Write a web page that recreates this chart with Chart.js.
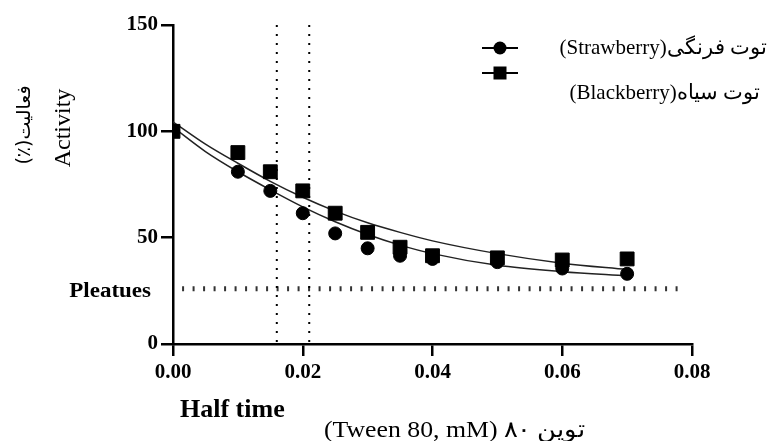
<!DOCTYPE html>
<html>
<head>
<meta charset="utf-8">
<script src="https://cdn.jsdelivr.net/npm/chart.js@4.4.1/dist/chart.umd.min.js"></script>
<style>
  html, body { margin: 0; padding: 0; background: #fff; }
  #wrap { width: 769px; height: 441px; }
</style>
</head>
<body>
<div id="wrap"><canvas id="activityChart" width="769" height="441"></canvas></div>
<script>
// measured points (Tween 80 concentration, mM)
const concentrations = [0, 0.01, 0.015, 0.02, 0.025, 0.03, 0.035, 0.04, 0.05, 0.06, 0.07];
const strawberry = [100, 81, 72, 61.5, 52, 45, 41.5, 40, 38.5, 35.5, 33];
const blackberry = [100, 90, 81, 72, 61.5, 52.5, 45.5, 41.5, 40.5, 39.5, 40];

// fitted decay curves
const fitX = [0, 0.005, 0.01, 0.015, 0.02, 0.025, 0.03, 0.035, 0.04, 0.05, 0.06, 0.07];
const strawberryFit = [102, 90.5, 81, 72.5, 64.5, 57.5, 51.5, 46.5, 42.5, 37, 34, 32];
const blackberryFit = [104.5, 94, 85, 76.5, 69, 62.5, 57, 52.5, 48.5, 42.5, 38, 35];

// half time guides and plateau
const halfTimes = [0.016, 0.021];
const plateauValue = 26;
const plateauRange = [0.0014, 0.0788];

const xTickValues = [0, 0.02, 0.04, 0.06, 0.08];
const yTickValues = [0, 50, 100, 150];

const legendLabels = ["(Strawberry)توت فرنگی", "(Blackberry)توت سیاه"];

function pairs(xs, ys) {
  return xs.map(function (x, i) { return { x: x, y: ys[i] }; });
}

const serif = "'Liberation Serif', 'Times New Roman', serif";

// text drawn a little wider than normal, like the source figure
function wideText(ctx, text, x, y, stretch) {
  ctx.save();
  ctx.translate(x, y);
  ctx.scale(stretch, 1);
  ctx.fillText(text, 0, 0);
  ctx.restore();
}

const textPlugin = {
  id: "textPlugin",
  afterDraw: function (chart) {
    const ctx = chart.ctx;
    ctx.save();
    ctx.fillStyle = "#000";

    // y titles
    ctx.save();
    ctx.translate(64, 128);
    ctx.rotate(-Math.PI / 2);
    ctx.textAlign = "center";
    ctx.textBaseline = "middle";
    ctx.font = "24px " + serif;
    ctx.fillText("Activity", 0, 0);
    ctx.restore();

    ctx.save();
    ctx.translate(25, 125);
    ctx.rotate(-Math.PI / 2);
    ctx.direction = "rtl";
    ctx.textAlign = "center";
    ctx.textBaseline = "middle";
    ctx.font = "19px 'DejaVu Sans', sans-serif";
    ctx.fillText("فعالیت(٪)", 0, 0);
    ctx.restore();

    // x titles
    ctx.textBaseline = "middle";
    ctx.textAlign = "left";
    ctx.font = "bold 26px " + serif;
    ctx.fillText("Half time", 180, 410);
    ctx.font = "23px " + serif;
    wideText(ctx, "(Tween 80, mM) توین ۸۰", 324, 431, 1.12);

    // plateau label
    ctx.textAlign = "right";
    ctx.font = "bold 20px " + serif;
    wideText(ctx, "Pleatues", 151, 292, 1.15);

    // legend
    ctx.strokeStyle = "#000";
    ctx.lineWidth = 2;
    ctx.beginPath();
    ctx.moveTo(482, 48); ctx.lineTo(518, 48);
    ctx.moveTo(482, 73); ctx.lineTo(518, 73);
    ctx.stroke();
    ctx.beginPath();
    ctx.arc(500, 48, 6.5, 0, Math.PI * 2);
    ctx.fill();
    ctx.fillRect(493.5, 66.5, 13, 13);

    ctx.font = "21px " + serif;
    ctx.textAlign = "right";
    ctx.fillText(legendLabels[0], 767, 48);
    ctx.fillText(legendLabels[1], 760, 93);
    ctx.restore();
  }
};

const ctx = document.getElementById("activityChart").getContext("2d");

new Chart(ctx, {
  type: "scatter",
  data: {
    datasets: [
      {
        label: "Strawberry",
        data: pairs(concentrations, strawberry),
        pointStyle: "circle",
        pointRadius: 6.5,
        backgroundColor: "#000",
        borderColor: "#000",
        showLine: false
      },
      {
        label: "Blackberry",
        data: pairs(concentrations, blackberry),
        pointStyle: "rect",
        pointRadius: 9.8,
        backgroundColor: "#000",
        borderColor: "#000",
        showLine: false
      },
      {
        label: "Strawberry fit",
        data: pairs(fitX, strawberryFit),
        showLine: true,
        pointRadius: 0,
        borderColor: "#222",
        borderWidth: 1.5,
        cubicInterpolationMode: "monotone"
      },
      {
        label: "Blackberry fit",
        data: pairs(fitX, blackberryFit),
        showLine: true,
        pointRadius: 0,
        borderColor: "#222",
        borderWidth: 1.5,
        cubicInterpolationMode: "monotone"
      },
      {
        label: "Half time 1",
        data: [{ x: halfTimes[0], y: 150 }, { x: halfTimes[0], y: 0 }],
        showLine: true,
        pointRadius: 0,
        borderColor: "#000",
        borderWidth: 2,
        borderDash: [2, 7]
      },
      {
        label: "Half time 2",
        data: [{ x: halfTimes[1], y: 150 }, { x: halfTimes[1], y: 0 }],
        showLine: true,
        pointRadius: 0,
        borderColor: "#000",
        borderWidth: 2,
        borderDash: [2, 7]
      },
      {
        label: "Plateau",
        data: [{ x: plateauRange[0], y: plateauValue }, { x: plateauRange[1], y: plateauValue }],
        showLine: true,
        pointRadius: 0,
        borderColor: "#333",
        borderWidth: 5,
        borderDash: [2, 8.5]
      }
    ]
  },
  options: {
    responsive: false,
    animation: false,
    layout: { padding: { left: 0, top: 25, right: 77, bottom: 0 } },
    plugins: {
      legend: { display: false },
      tooltip: { enabled: false }
    },
    scales: {
      x: {
        type: "linear",
        min: 0,
        max: 0.08,
        afterBuildTicks: function (scale) {
          scale.ticks = xTickValues.map(function (v) { return { value: v }; });
        },
        afterFit: function (scale) { scale.height = 97; },
        border: { color: "#000", width: 2.5 },
        grid: { drawOnChartArea: false, color: "#000", lineWidth: 2.5, tickLength: 12 },
        ticks: {
          color: "#000",
          padding: 4,
          font: { family: serif, size: 21, weight: "bold" },
          callback: function (v) { return Number(v).toFixed(2); }
        }
      },
      y: {
        type: "linear",
        min: 0,
        max: 150,
        afterBuildTicks: function (scale) {
          scale.ticks = yTickValues.map(function (v) { return { value: v }; });
        },
        afterFit: function (scale) { scale.width = 173; },
        border: { color: "#000", width: 2.5 },
        grid: { drawOnChartArea: false, color: "#000", lineWidth: 2.5, tickLength: 12 },
        ticks: {
          color: "#000",
          padding: 3,
          font: { family: serif, size: 21, weight: "bold" }
        }
      }
    }
  },
  plugins: [textPlugin]
});
</script>
</body>
</html>
